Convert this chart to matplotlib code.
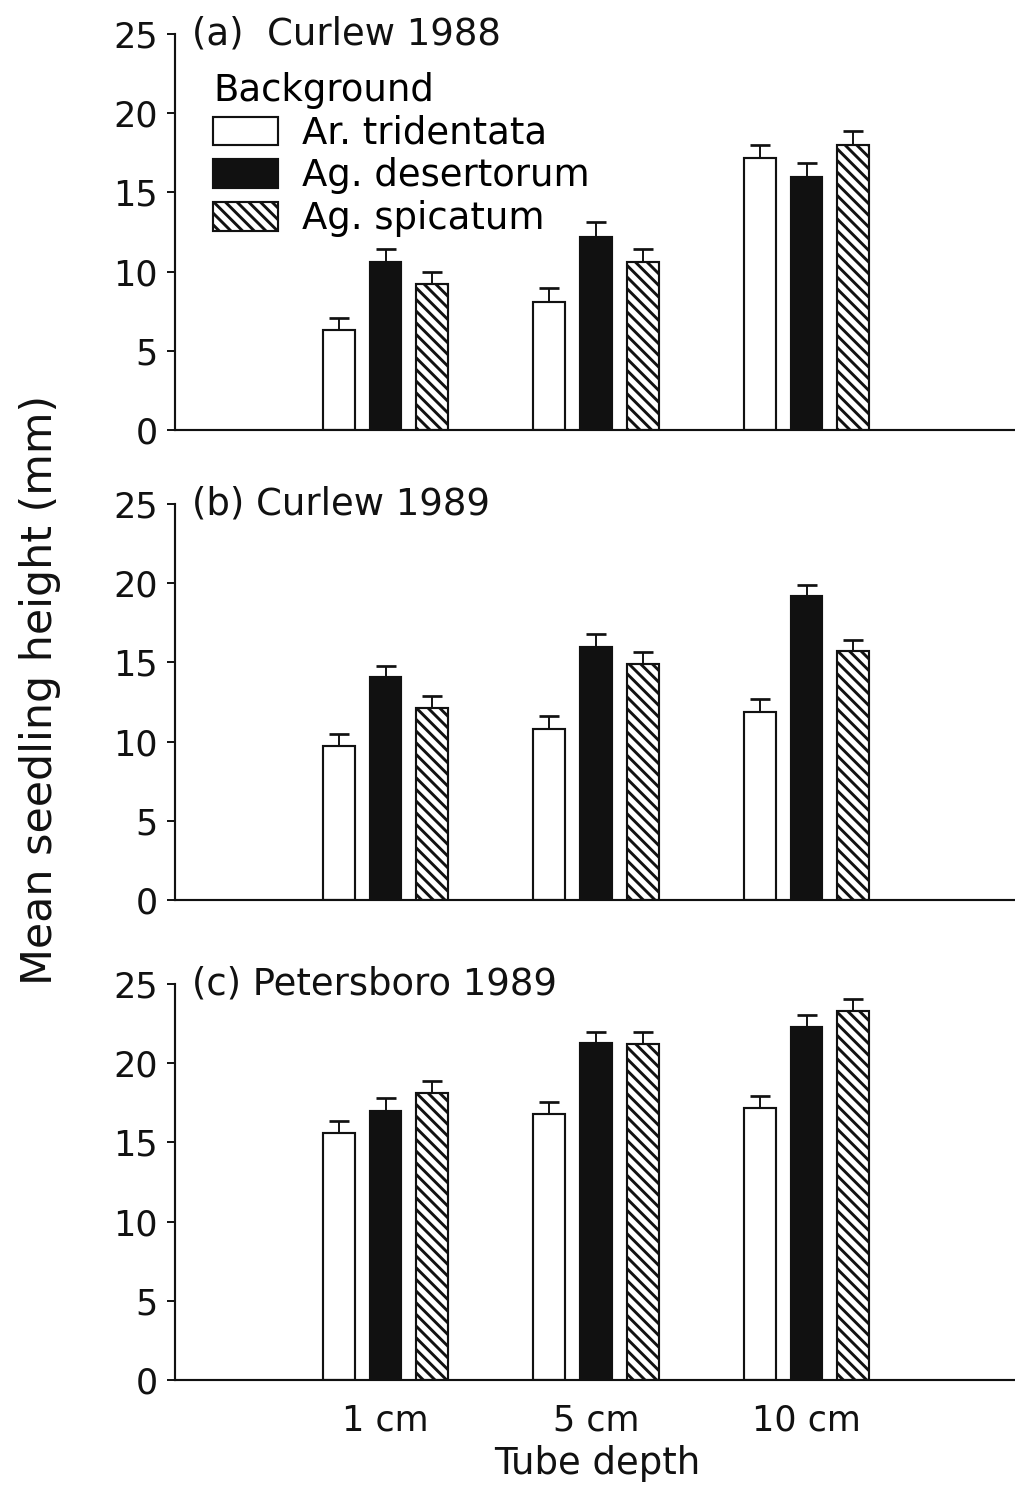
import matplotlib
matplotlib.use("Agg")
import matplotlib.pyplot as plt
import numpy as np

DPI = 140
INK = "#111111"

depths = ["1 cm", "5 cm", "10 cm"]
backgrounds = ["Ar. tridentata", "Ag. desertorum", "Ag. spicatum"]
panel_titles = ["(a)  Curlew 1988", "(b) Curlew 1989", "(c) Petersboro 1989"]

# mean seedling height (mm) per background, one list per tube depth
a_tridentata = [6.3, 8.1, 17.2]
a_desertorum = [10.6, 12.2, 16.0]
a_spicatum = [9.2, 10.6, 18.0]
a_tridentata_se = [0.8, 0.85, 0.8]
a_desertorum_se = [0.8, 0.9, 0.85]
a_spicatum_se = [0.8, 0.8, 0.85]

b_tridentata = [9.7, 10.8, 11.9]
b_desertorum = [14.1, 16.0, 19.2]
b_spicatum = [12.1, 14.9, 15.7]
b_tridentata_se = [0.75, 0.8, 0.8]
b_desertorum_se = [0.7, 0.8, 0.7]
b_spicatum_se = [0.75, 0.75, 0.7]

c_tridentata = [15.6, 16.8, 17.2]
c_desertorum = [17.0, 21.3, 22.3]
c_spicatum = [18.1, 21.2, 23.3]
c_tridentata_se = [0.75, 0.75, 0.7]
c_desertorum_se = [0.8, 0.7, 0.75]
c_spicatum_se = [0.8, 0.75, 0.75]

panels = [
    ([a_tridentata, a_desertorum, a_spicatum], [a_tridentata_se, a_desertorum_se, a_spicatum_se]),
    ([b_tridentata, b_desertorum, b_spicatum], [b_tridentata_se, b_desertorum_se, b_spicatum_se]),
    ([c_tridentata, c_desertorum, c_spicatum], [c_tridentata_se, c_desertorum_se, c_spicatum_se]),
]

bar_styles = [
    dict(facecolor="white", hatch=None),
    dict(facecolor=INK, hatch=None),
    dict(facecolor="white", hatch="\\\\\\\\"),
]

FS = 18

plt.rcParams.update({
    "font.family": "DejaVu Sans",
    "font.size": FS,
    "hatch.linewidth": 1.5,
    "hatch.color": INK,
    "axes.linewidth": 1.1,
})

W, H = 1015, 1485
fig = plt.figure(figsize=(W / DPI, H / DPI), dpi=DPI, facecolor="white")

left_px, width_px, height_px = 175, 842, 396
zero_px = [430, 900, 1380]

x = np.arange(1, len(depths) + 1)
offset, width = 0.222, 0.152

axes = []
for i, (means, ses) in enumerate(panels):
    ax = fig.add_axes([left_px / W, 1 - zero_px[i] / H, width_px / W, height_px / H])
    axes.append(ax)
    for j, (m, se) in enumerate(zip(means, ses)):
        xs = x + (j - 1) * offset
        st = bar_styles[j]
        ax.bar(xs, m, width=width, color=st["facecolor"], edgecolor=INK,
               linewidth=1.1, hatch=st["hatch"], label=backgrounds[j], zorder=2)
        ax.errorbar(xs, m, yerr=[np.zeros(len(se)), se], fmt="none", ecolor=INK,
                    elinewidth=1.0, capsize=5, capthick=1.4, zorder=1)
    ax.set_xlim(0, 4)
    ax.set_ylim(0, 25)
    ax.set_yticks([0, 5, 10, 15, 20, 25])
    ax.spines["top"].set_visible(False)
    ax.spines["right"].set_visible(False)
    ax.spines["left"].set_color(INK)
    ax.spines["bottom"].set_color(INK)
    ax.tick_params(axis="y", direction="out", length=4, width=1.0, pad=5, colors=INK)
    ax.tick_params(axis="x", length=0, pad=12, colors=INK)
    ax.text(0.02, 1.0, panel_titles[i], transform=ax.transAxes, ha="left",
            va="center", color=INK, fontsize=FS + 1)
    if i < 2:
        ax.set_xticks([])
    else:
        ax.set_xticks(x)
        ax.set_xticklabels(depths)
        ax.set_xlabel("Tube depth", color=INK, fontsize=FS + 1)
        ax.xaxis.set_label_coords((597 - left_px) / width_px, -0.165)

leg = axes[0].legend(loc="upper left", bbox_to_anchor=(0.045, 0.905), frameon=False,
                     title="Background", alignment="left", handlelength=1.77,
                     handleheight=0.8, handletextpad=0.65, labelspacing=0.16,
                     borderpad=0, borderaxespad=0, title_fontsize=FS + 1, fontsize=FS + 1)

fig.text(40 / W, 1 - 690 / H, "Mean seedling height (mm)", rotation=90,
         ha="center", va="center", color=INK, fontsize=22)

fig.savefig("out.png", dpi=DPI, facecolor="white")
